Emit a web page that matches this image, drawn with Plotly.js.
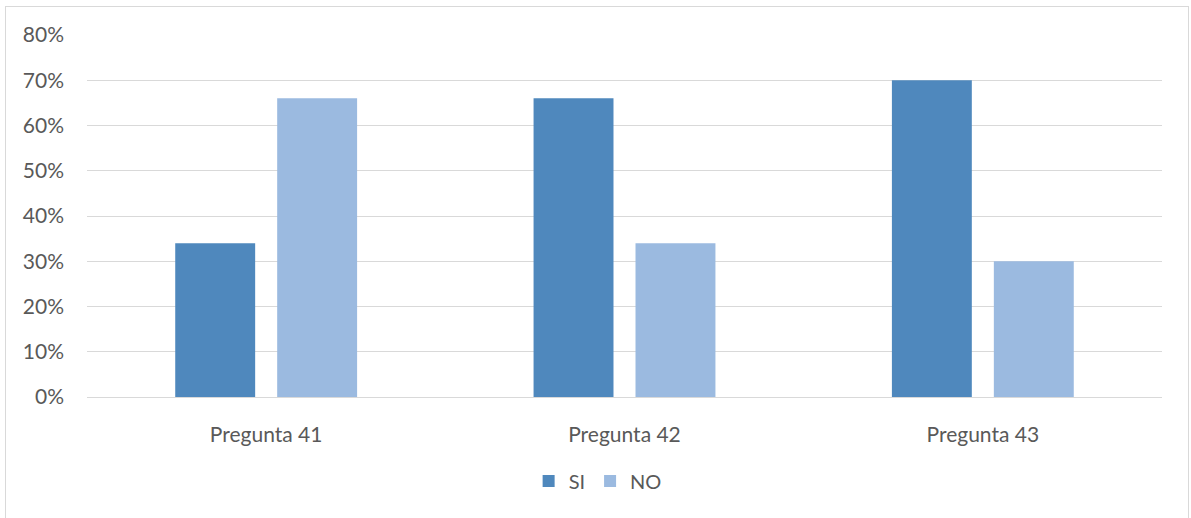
<!DOCTYPE html>
<html>
<head>
<meta charset="utf-8">
<script src="https://cdn.plot.ly/plotly-3.0.1.min.js"></script>
<style>
  html, body { margin: 0; padding: 0; background: #fff; }
  #wrap { position: relative; width: 1191px; height: 518px; }
  #frame { position: absolute; left: 5px; top: 6px; width: 1184px; height: 520px; border: 1px solid #d9d9d9; box-sizing: border-box; pointer-events: none; }
  #chart { position: absolute; left: 0; top: 0; width: 1191px; height: 518px; }
</style>
</head>
<body>
<div id="wrap">
  <div id="chart"></div>
  <div id="frame"></div>
</div>
<script>
const categories = ["Pregunta 41", "Pregunta 42", "Pregunta 43"];
const siValues = [0.34, 0.66, 0.70];
const noValues = [0.66, 0.34, 0.30];
const yTickValues = [0, 0.1, 0.2, 0.3, 0.4, 0.5, 0.6, 0.7, 0.8];
const yTickLabels = ["0%", "10%", "20%", "30%", "40%", "50%", "60%", "70%", "80%"];

const font = { family: "Lato, Open Sans, Liberation Sans, sans-serif", size: 21, color: "#595959" };
const legendFont = { family: "Lato, Open Sans, Liberation Sans, sans-serif", size: 20, color: "#595959" };

const data = [
  { type: "bar", name: "SI", x: categories, y: siValues, marker: { color: "#4F88BD" }, hoverinfo: "none" },
  { type: "bar", name: "NO", x: categories, y: noValues, marker: { color: "#9BBAE0" }, hoverinfo: "none" }
];

const layout = {
  width: 1191, height: 518,
  margin: { l: 87, r: 29, t: 35, b: 121 },
  paper_bgcolor: "rgba(0,0,0,0)", plot_bgcolor: "rgba(0,0,0,0)",
  barmode: "group", bargap: 0.431, bargroupgap: 0.216,
  font: font,
  showlegend: true,
  legend: { orientation: "h", x: 0.475, xanchor: "center", xref: "paper", y: -0.232, yanchor: "middle", font: legendFont, itemwidth: 30, traceorder: "normal" },
  xaxis: { type: "category", showgrid: false, showline: true, linecolor: "#d9d9d9", linewidth: 1, ticks: "", ticklabelstandoff: 19, tickfont: font, zeroline: false },
  yaxis: { range: [0, 0.8], tickvals: yTickValues, ticktext: yTickLabels, showgrid: true, gridcolor: "#d9d9d9", gridwidth: 1, zeroline: false, showline: false, ticks: "", ticklabelstandoff: 22, tickfont: font }
};

Plotly.newPlot("chart", data, layout, { staticPlot: true, displayModeBar: false });
</script>
</body>
</html>
